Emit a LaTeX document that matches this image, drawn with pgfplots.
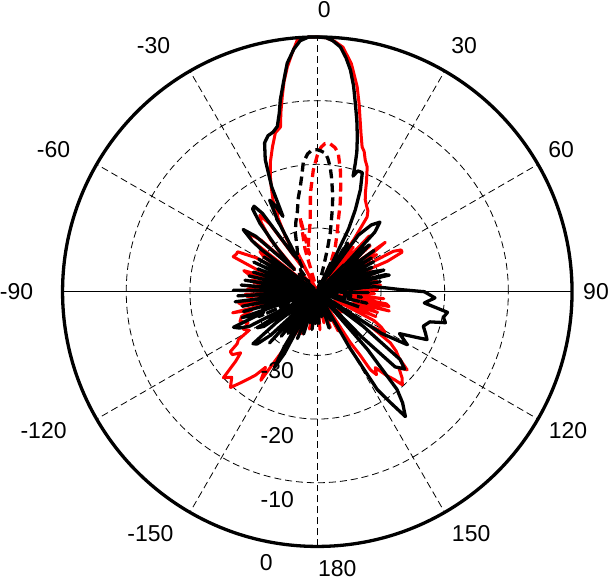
\documentclass[border=0pt]{standalone}
\usepackage{fontspec}
\setmainfont{Liberation Sans}
\usepackage{pgfplots}
\pgfplotsset{compat=1.18}
\usepackage{pgfplotstable}

% angle t (deg, clockwise from top), level db (dB)
\pgfplotstableread{
t db
-180 -40
-177 -35
-175 -40
-172 -34
-170 -40
-167 -35
-165 -40
-162 -33
-160 -40
-157 -32
-155 -40
-152 -29
-150.5 -26.3
-149 -30
-147 -40
-145 -32
-143 -40
-141 -31
-139 -40
-137 -29
-135 -38
-133 -30
-131 -27.5
-129 -27
-127 -32
-125 -40
-123 -30
-121 -29
-119 -40
-117 -28
-115 -26.5
-113 -25.7
-111 -31
-109 -27.5
-107 -39
-105 -28
-103 -39
-101 -28
-99 -37
-97 -27
-95 -38
-93 -27.5
-91 -39
-89 -26.8
-87 -37
-85 -28
-83 -39
-81 -28.5
-79 -38
-77 -29
-75 -39
-73 -29.5
-71 -38
-69 -30
-67 -39
-65 -29
-63 -38
-61 -29.5
-59 -39
-57 -30
-55 -38
-53 -29
-52 -27
-50 -24.8
-48 -27
-46 -35
-43 -31
-40 -26
-38 -23.5
-36.5 -23.3
-35 -25
-33 -33
-31 -34
-29 -27
-27.5 -23.8
-26 -25
-24.5 -27
-23.5 -22
-21.5 -17.7
-19.5 -15.2
-17.5 -14.3
-15.5 -14
-13.6 -13.3
-12 -11.3
-10.9 -9.3
-9 -6.4
-7.5 -3.8
-5.5 -1.7
-3.9 -0.5
-2 0
0 0
2 -0.1
3.5 -0.5
5.4 -1.4
7 -3
8.5 -4.8
10 -7.2
11.4 -9.8
13 -12.4
14.5 -14.9
15.8 -17.2
16.5 -19
17.2 -21
18.5 -20
20.7 -20
22.9 -22.6
24.9 -25.8
26.5 -29
28 -36
30 -40
32 -31
34 -37
36 -29
39 -26.5
42 -25.3
44 -27
46 -34
48 -29
50 -32
52 -39
54 -29
56 -38
58 -30
60 -39
62 -30
64 -38
66 -30.6
68 -39
70 -31
72 -29
74 -38
76 -29
77 -28.4
79 -39
81 -30
83 -38
85 -31
87 -29
88.5 -27
90 -23.2
93 -21.5
96 -23.1
99 -19.3
101.5 -19.8
103.6 -19.3
105 -21.7
108 -22.5
111 -21.8
113.6 -21.2
115 -23.2
117 -25.5
120.5 -23.6
123 -28
125 -40
127 -31
129.3 -23.2
131.5 -21.7
134 -23
135.5 -30
137 -40
139 -28
140.8 -20.2
142.5 -18
144.8 -16
146.5 -19
148.5 -22
150 -30
152 -40
155 -35
158 -40
162 -34
166 -40
170 -36
174 -40
177 -35
180 -40
}\tblB

\pgfplotstableread{
t db
-180 -40
-176 -35
-172 -40
-168 -34
-164 -40
-160 -33
-156 -40
-153 -33
-150 -30
-147.5 -23.5
-145.6 -25.6
-143.5 -23.7
-141.5 -22.4
-139.5 -21
-137.8 -19.7
-135 -21
-132.5 -20
-130.5 -23.1
-128.6 -24.6
-126.5 -23.4
-124.6 -23.4
-123 -25
-121.3 -25.5
-119.5 -27.7
-117 -27
-114 -28.1
-111 -27
-108 -27.5
-105.5 -29.4
-104 -26.3
-102 -38
-100 -28
-98 -27.5
-96 -38
-94 -29
-92 -28.7
-90 -38
-88 -29
-86 -30
-84 -39
-82 -30
-80 -29.5
-78 -38
-76 -29
-74 -28
-72 -37
-70 -30
-67.4 -25.7
-65 -26
-63.4 -26
-61 -29
-59 -38
-57 -30
-55 -29
-53 -38
-52 -27
-49.9 -25.6
-47.5 -28
-45 -35
-42 -29
-39 -26
-37 -25
-35 -27
-32 -35
-30 -30
-28 -26.8
-26.7 -26.1
-26 -24.2
-24 -22.3
-22.2 -20.5
-19.7 -18.2
-17.2 -16.2
-14.8 -14.2
-12.6 -13.5
-11.5 -11.3
-10.2 -8.9
-9 -6.6
-7.6 -4.4
-6 -2.3
-4.5 -0.3
-2 0
0 0
2 -0.1
4 -0.6
6 -1.4
8.5 -3.8
11 -7.2
12.5 -9.7
14 -12.2
15.5 -14.3
17.2 -16.2
18.5 -16.8
20 -18
21.8 -18.9
24 -21
25.9 -22.7
27.5 -23.7
30 -24.5
32 -25
33.7 -25.9
35 -30
37 -40
39 -31
41 -37
43 -28
45 -36
47 -30
49 -29
51 -37
54 -26.8
56 -31
58 -29
60 -36
62 -26.5
63.5 -25.3
65 -25.3
66.5 -28
68 -39
70 -31
72 -30
74 -37
76 -31
78 -36
80 -30.5
82 -37
84 -30
86 -36
88 -30.5
90 -37
92 -31
94 -36
96 -29.5
98 -35
100 -29
101.7 -28.5
103 -35
105 -28.3
107 -34
109 -30
111 -36
113 -30
115 -37
117 -30
119 -28.5
121 -27.6
123 -30
125 -26
127 -24.5
129 -23.5
131 -21.3
133 -22.5
135.5 -21
137.6 -20.2
138.8 -21.7
140.5 -23
142.6 -25
144.5 -24
145.8 -25.2
146 -28
147 -30.5
149 -40
152 -33
156 -40
160 -34
164 -40
168 -35
172 -40
176 -34
180 -40
}\tblR

\pgfplotstableread{
t db
-180 -40
-170 -36
-160 -40
-150 -35
-140 -40
-128 -34
-122 -40
-119 -31
-116 -40
-113 -30
-110 -40
-107 -31
-104 -40
-101 -30
-98 -40
-95 -31
-92 -40
-89 -30
-86 -40
-83 -31
-80 -40
-77 -31
-74 -40
-71 -32
-68 -40
-65 -31
-62 -40
-59 -32
-56 -40
-46 -36
-40 -38
-37.7 -35.6
-33 -36
-29 -33.5
-25.5 -32.7
-20.4 -30.1
-17 -28.5
-14.2 -27.2
-11.5 -25
-9.2 -23.3
-7.5 -21.5
-6.2 -19.6
-4 -18.3
-2 -17.7
0 -17.7
1.5 -17.9
3.3 -18.2
4.5 -19
5.9 -20.3
7 -21.8
8.1 -23.4
9.3 -25
10.4 -27
12.4 -30.5
13.4 -33.2
14 -36
17 -40
25 -35
33 -40
45 -34
52 -40
55 -32
58 -40
61 -33
64 -40
67 -32
70 -40
73 -33
76 -40
79 -32
82 -40
85 -33
88 -40
91 -32
94 -40
97 -33
100 -40
103 -32
106 -40
110 -33
114 -40
125 -35
140 -40
155 -36
168 -40
180 -40
}\tblBD

\pgfplotstableread{
t db
-180 -40
-165 -36
-155 -40
-145 -35
-135 -40
-123 -34
-113 -40
-103 -35
-93 -40
-83 -34
-73 -40
-61 -35
-51 -40
-41 -36
-33 -40
-27 -33
-22 -40
-16 -33
-13 -28
-12 -34
-10.4 -32.2
-7.5 -30.5
-5.6 -28.7
-4 -24.5
-1.9 -20.9
0 -18.6
1.5 -17.3
3 -16.7
5 -16.7
7 -17.2
8.6 -18
10.7 -20.5
12.5 -23
14.5 -25.6
16.3 -28.2
19 -30.5
21.8 -32.4
25.7 -35.3
30 -40
37 -33
43 -40
52 -34
62 -40
74 -35
86 -40
100 -34
115 -40
130 -35
145 -40
160 -36
172 -40
180 -40
}\tblRD

\pgfplotsset{
  table/polartab/.style={x expr={max(\thisrow{db}+40,0)*sin(\thisrow{t})},
                   y expr={max(\thisrow{db}+40,0)*cos(\thisrow{t})}},
}
\tikzset{gridl/.style={line width=0.8pt, dash pattern=on 7pt off 4pt}}

\begin{document}
\begin{tikzpicture}
\begin{axis}[x=6.375pt, y=6.375pt, xmin=-40, xmax=40, ymin=-40, ymax=40,
  hide axis, clip=false, scale only axis]
  % grid
  \draw[gridl] (axis cs:0,0) circle[radius=10];
  \draw[gridl] (axis cs:0,0) circle[radius=20];
  \draw[gridl] (axis cs:0,0) circle[radius=30];
  \pgfplotsinvokeforeach{30,60,120,150,210,240,300,330}{
    \draw[gridl] (axis cs:0,0) -- (axis cs:{40*sin(#1)},{40*cos(#1)});
  }
  \draw[gridl] (axis cs:0,-40) -- (axis cs:0,40);
  \draw[line width=1pt] (axis cs:-40,0) -- (axis cs:40,0);
  % data
  \addplot[red, line width=3pt, line join=round] table[polartab]{\tblR};
  \addplot[red, line width=3.3pt, dash pattern=on 9pt off 5pt, line join=round] table[polartab]{\tblRD};
  \addplot[black, line width=3.3pt, line join=round] table[polartab]{\tblB};
  \addplot[black, line width=3.3pt, dash pattern=on 9pt off 5pt, line join=round] table[polartab]{\tblBD};
  \draw[line width=3.3pt] (axis cs:0,0) circle[radius=40];
  \coordinate (c) at (axis cs:0,0);
\end{axis}
\begin{scope}[every node/.style={inner sep=0pt, font=\fontsize{23}{23}\selectfont}]
\node at ([shift={(7pt,282pt)}]c) {0};
\node at ([shift={(147pt,246pt)}]c) {30};
\node at ([shift={(-164pt,246pt)}]c) {-30};
\node at ([shift={(244pt,142pt)}]c) {60};
\node at ([shift={(-264pt,142pt)}]c) {-60};
\node at ([shift={(279pt,0pt)}]c) {90};
\node at ([shift={(-301pt,0pt)}]c) {-90};
\node at ([shift={(251pt,-139pt)}]c) {120};
\node at ([shift={(-274pt,-139pt)}]c) {-120};
\node at ([shift={(154pt,-242pt)}]c) {150};
\node at ([shift={(-167pt,-242pt)}]c) {-150};
\node at ([shift={(20pt,-277pt)}]c) {180};
\node at ([shift={(-51pt,-271pt)}]c) {0};
\node at ([shift={(-40pt,-208pt)}]c) {-10};
\node at ([shift={(-40pt,-144pt)}]c) {-20};
\node at ([shift={(-40pt,-79pt)}]c) {-30};
\end{scope}
\path (c) ++(-317pt,-289pt) rectangle ++(610pt,581pt);
\end{tikzpicture}
\end{document}
